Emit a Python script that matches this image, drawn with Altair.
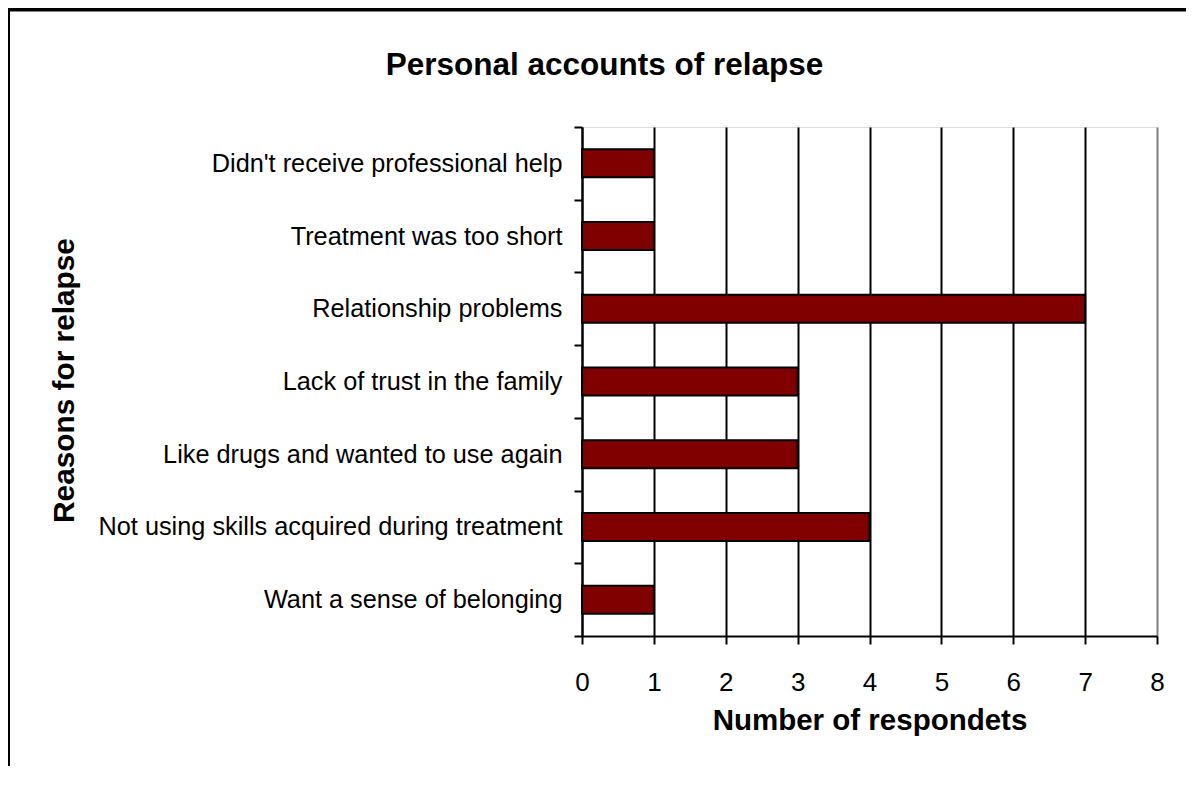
import altair as alt
import pandas as pd

reasons = [
    "Didn't receive professional help",
    "Treatment was too short",
    "Relationship problems",
    "Lack of trust in the family",
    "Like drugs and wanted to use again",
    "Not using skills acquired during treatment",
    "Want a sense of belonging",
]
counts = [1, 1, 7, 3, 3, 4, 1]
x_ticks = [0, 1, 2, 3, 4, 5, 6, 7, 8]

FONT = "Liberation Sans"

df = pd.DataFrame({"reason": reasons, "count": counts})

bars = alt.Chart(df).mark_bar(
    color="#800000", stroke="black", strokeWidth=2, size=28
).encode(
    x=alt.X(
        "count:Q",
        scale=alt.Scale(domain=[0, 8], nice=False),
        axis=alt.Axis(
            values=x_ticks,
            title="Number of respondets",
            titleFontSize=29.5,
            titleFontWeight="bold",
            titleFont=FONT,
            titleColor="black",
            titleX=287.5,
            titleY=93,
            titleAlign="center",
            titleBaseline="alphabetic",
            labelFontSize=26,
            labelFont=FONT,
            labelColor="black",
            labelPadding=25,
            labelFlush=False,
            domainColor="black",
            domainWidth=2,
            tickColor="black",
            tickWidth=2,
            tickSize=8,
            grid=True,
            gridColor={"condition": {"test": "datum.value === 8", "value": "#808080"}, "value": "black"},
            gridWidth=2,
            gridOpacity=1,
        ),
    ),
    y=alt.Y(
        "reason:N",
        sort=reasons,
        scale=alt.Scale(paddingInner=0, paddingOuter=0),
        axis=alt.Axis(
            title="Reasons for relapse",
            titleFontSize=29.8,
            titleFontWeight="bold",
            titleFont=FONT,
            titleColor="black",
            titleAngle=270,
            titleX=-509,
            titleY=253,
            titleAlign="center",
            titleBaseline="alphabetic",
            labelFontSize=25.3,
            labelFont=FONT,
            labelColor="black",
            labelPadding=12,
            labelLimit=0,
            domainColor="black",
            domainWidth=2,
            tickColor="black",
            tickWidth=2,
            tickSize=8,
            tickBand="extent",
            grid=False,
        ),
    ),
)

frame_df = pd.DataFrame({"k": [0]})
frame_left = alt.Chart(frame_df).mark_rule(color="black", strokeWidth=4).encode(
    x=alt.value(-574), y=alt.value(-118), y2=alt.value(1000)
)
frame_top = alt.Chart(frame_df).mark_rule(color="black", strokeWidth=4).encode(
    x=alt.value(-576), x2=alt.value(2000), y=alt.value(-117.5)
)

chart = alt.layer(bars, frame_left, frame_top).properties(
    width=575,
    height=509,
    autosize=alt.AutoSizeParams(type="none"),
    padding={"left": 574, "top": 119, "right": 29, "bottom": 130},
    title=alt.TitleParams(
        "Personal accounts of relapse",
        fontSize=31.5,
        fontWeight="bold",
        font=FONT,
        color="black",
        anchor="middle",
        baseline="alphabetic",
        dx=-265,
        dy=99.5,
        offset=0,
    ),
).configure_view(
    stroke="#808080", strokeWidth=2
).configure(background="white")

chart.save("out.html", embed_options={"renderer": "svg", "actions": False})
